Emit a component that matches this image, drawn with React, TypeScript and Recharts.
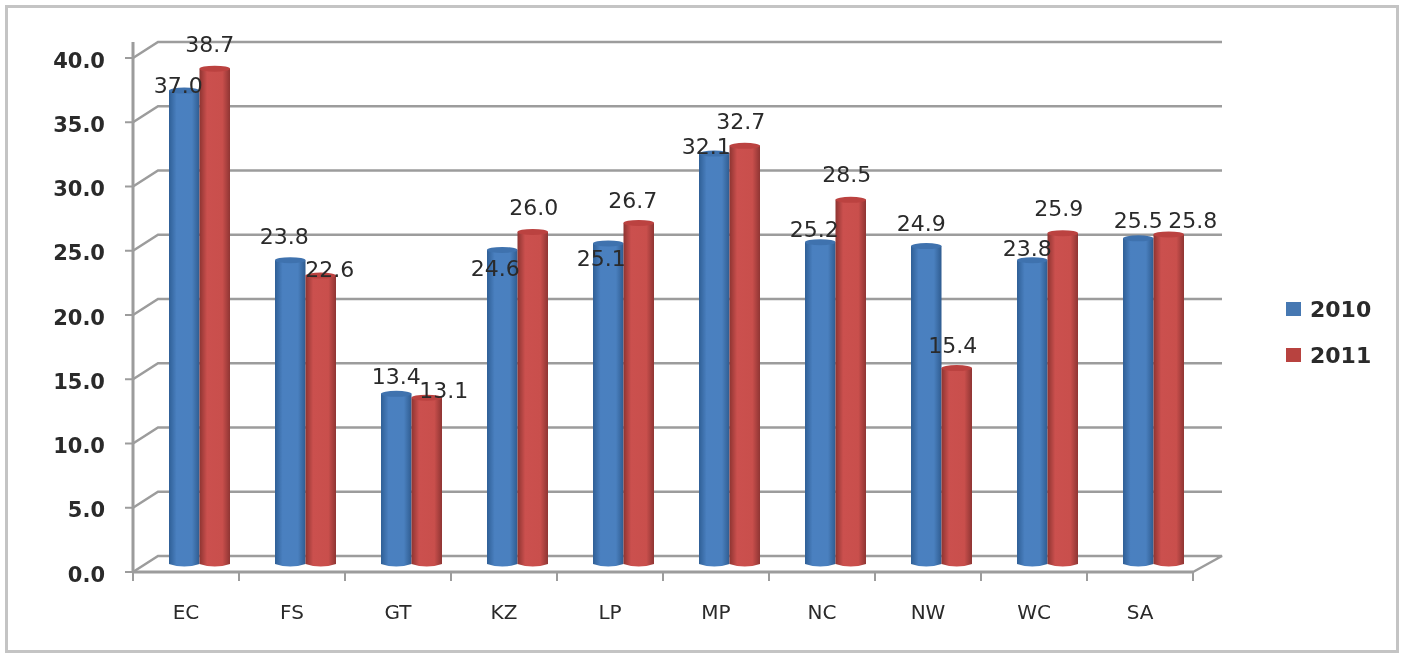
import { Bar, CartesianGrid, ComposedChart, LabelList, Legend, XAxis, YAxis } from "recharts"

const provinces = ["EC", "FS", "GT", "KZ", "LP", "MP", "NC", "NW", "WC", "SA"]
const values2010 = [37.0, 23.8, 13.4, 24.6, 25.1, 32.1, 25.2, 24.9, 23.8, 25.5]
const values2011 = [38.7, 22.6, 13.1, 26.0, 26.7, 32.7, 28.5, 15.4, 25.9, 25.8]
const yTicks = [0, 5, 10, 15, 20, 25, 30, 35, 40]

const chartData = provinces.map((name, i) => ({ name, y2010: values2010[i], y2011: values2011[i] }))

// the 3D look: bars and back wall sit at their own depth offset from the front axis
const BAR_DX = 13
const BAR_DY = -6
const WALL_DX = 25
const WALL_DY = -16
const BAND = 106
const PLOT_BOTTOM = 572

// label nudges, the original labels were dragged around by hand
const nudge2010 = [[-6, -5], [-6, -24], [0, -18], [-7, 18], [-7, 15], [-8, -7], [-6, -13], [-5, -23], [-5, -12], [0, -18]]
const nudge2011 = [[-5, -25], [9, -7], [17, -8], [1, -25], [-6, -23], [-4, -25], [-4, -26], [-4, -23], [-4, -25], [24, -14]]

const FONT = "'DejaVu Sans', sans-serif"
const TEXT = "#2a2a2a"
const GRID = "#9c9c9c"

function Cylinder(props: any) {
  const { x, y, width, height, gradient, cap } = props
  const left = x + BAR_DX
  const top = y + BAR_DY
  const bottom = top + height
  return (
    <g>
      <path
        d={`M${left},${top} L${left},${bottom - 2} Q${left + width / 2},${bottom + 3} ${left + width},${bottom - 2} L${left + width},${top} Z`}
        fill={`url(#${gradient})`}
      />
      <ellipse cx={left + width / 2} cy={top} rx={width / 2} ry={3} fill={cap} />
    </g>
  )
}

function makeLabel(nudges: number[][]) {
  return (props: any) => {
    const { x, y, width, value, index } = props
    const [dx, dy] = nudges[index]
    return (
      <text
        x={x + BAR_DX + width / 2 + dx}
        y={y + BAR_DY + dy}
        dy="0.36em"
        textAnchor="middle"
        fontFamily={FONT}
        fontSize={22}
        fill={TEXT}
      >
        {Number(value).toFixed(1)}
      </text>
    )
  }
}

function wallLine(props: any) {
  const { x1, x2, y1, key } = props
  const back = y1 + WALL_DY
  const end = x2 + WALL_DX + 4
  const floor = Math.abs(y1 - PLOT_BOTTOM) < 1
  const tail = floor ? ` L${x2},${y1}` : ""
  return (
    <path
      key={key}
      d={`M${x1},${y1} L${x1 + WALL_DX},${back} L${end},${back}${tail}`}
      fill="none"
      stroke={GRID}
      strokeWidth={2.5}
    />
  )
}

function CategoryTick(props: any) {
  const { x, payload, index } = props
  const last = index === provinces.length - 1
  return (
    <g>
      <line x1={x - BAND / 2} x2={x - BAND / 2} y1={PLOT_BOTTOM} y2={PLOT_BOTTOM + 9} stroke={GRID} strokeWidth={2} />
      {last && <line x1={x + BAND / 2} x2={x + BAND / 2} y1={PLOT_BOTTOM} y2={PLOT_BOTTOM + 9} stroke={GRID} strokeWidth={2} />}
      <text x={x} y={612} dy="0.36em" textAnchor="middle" fontFamily={FONT} fontSize={20} fontWeight={500} fill={TEXT}>
        {payload.value}
      </text>
    </g>
  )
}

function ValueTick(props: any) {
  const { x, y, payload } = props
  return (
    <text x={x} y={y + 2} dy="0.36em" textAnchor="end" fontFamily={FONT} fontSize={21} fontWeight={600} fill={TEXT}>
      {payload.value.toFixed(1)}
    </text>
  )
}

function SeriesKey({ payload }: any) {
  return (
    <div style={{ width: 211, height: 110, paddingLeft: 93, boxSizing: "border-box" }}>
      {(payload || []).map((entry: any) => (
        <div key={entry.value} style={{ display: "flex", alignItems: "center", height: 46 }}>
          <span style={{ width: 15, height: 14, background: entry.color, marginRight: 9 }} />
          <span style={{ fontFamily: FONT, fontSize: 22, fontWeight: 600, color: TEXT }}>{entry.value}</span>
        </div>
      ))}
    </div>
  )
}

export default function App() {
  return (
    <div style={{ position: "absolute", left: 0, top: 0, width: 1404, height: 653, background: "#fff", overflow: "hidden" }}>
      <div
        style={{
          position: "absolute",
          left: 5,
          top: 5,
          width: 1388,
          height: 642,
          border: "3px solid #c4c4c4",
        }}
      />
      <div style={{ position: "absolute", left: 0, top: 0, filter: "blur(0.7px)" }}>
        <ComposedChart
          width={1404}
          height={653}
          data={chartData}
          margin={{ top: 42, right: 0, bottom: 0, left: 43 }}
          barSize={30.5}
          barGap={0}
        >
          <defs>
            <linearGradient id="blueBar" x1="0" x2="1" y1="0" y2="0">
              <stop offset="0%" stopColor="#2f5f96" />
              <stop offset="25%" stopColor="#4a80c0" />
              <stop offset="75%" stopColor="#4a80bf" />
              <stop offset="100%" stopColor="#2f5c90" />
            </linearGradient>
            <linearGradient id="redBar" x1="0" x2="1" y1="0" y2="0">
              <stop offset="0%" stopColor="#8e3431" />
              <stop offset="25%" stopColor="#cb504e" />
              <stop offset="75%" stopColor="#c94f4c" />
              <stop offset="100%" stopColor="#8f3533" />
            </linearGradient>
          </defs>
          <CartesianGrid vertical={false} syncWithTicks horizontal={wallLine} />
          <XAxis
            dataKey="name"
            height={81}
            interval={0}
            axisLine={{ stroke: GRID, strokeWidth: 3 }}
            tickLine={false}
            tick={<CategoryTick />}
          />
          <YAxis
            width={90}
            domain={[0, 41.245]}
            ticks={yTicks}
            interval={0}
            axisLine={{ stroke: GRID, strokeWidth: 3 }}
            tickLine={{ stroke: GRID, strokeWidth: 2 }}
            tickSize={8}
            tickMargin={20}
            tick={<ValueTick />}
          />
          <Bar
            dataKey="y2010"
            name="2010"
            fill="#4678b2"
            isAnimationActive={false}
            shape={<Cylinder gradient="blueBar" cap="#3f72ae" />}
          >
            <LabelList dataKey="y2010" content={makeLabel(nudge2010)} />
          </Bar>
          <Bar
            dataKey="y2011"
            name="2011"
            fill="#b8423f"
            isAnimationActive={false}
            shape={<Cylinder gradient="redBar" cap="#bb4240" />}
          >
            <LabelList dataKey="y2011" content={makeLabel(nudge2011)} />
          </Bar>
          <Legend
            layout="vertical"
            align="right"
            verticalAlign="top"
            wrapperStyle={{ top: 286, right: 0, width: 211 }}
            content={<SeriesKey />}
          />
        </ComposedChart>
      </div>
    </div>
  )
}
